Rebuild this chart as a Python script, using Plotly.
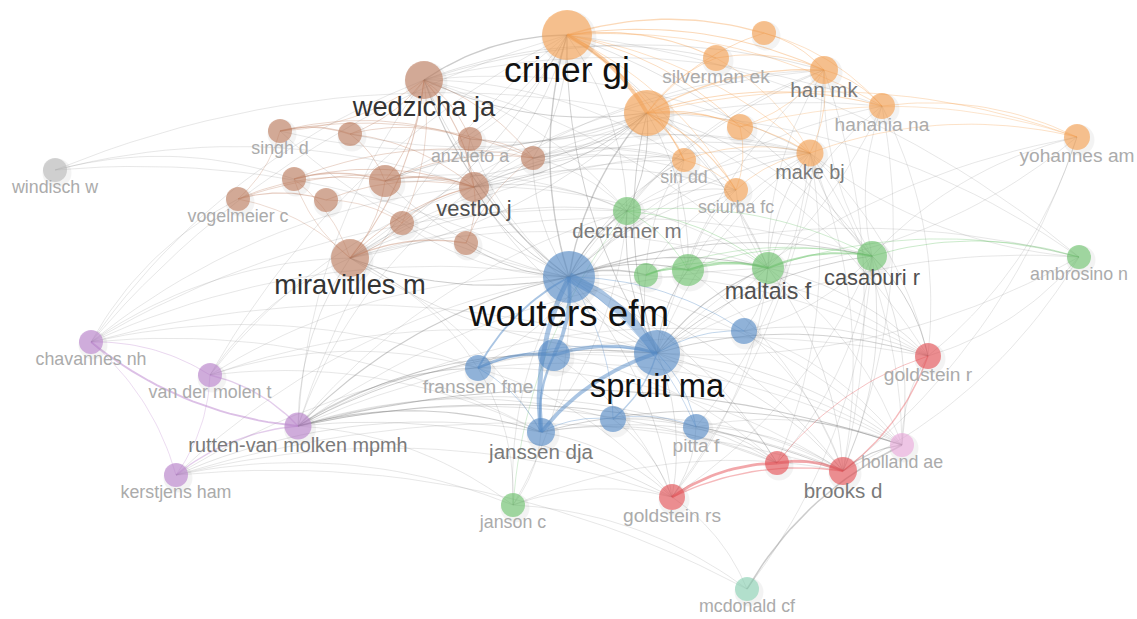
import numpy as np
import plotly.graph_objects as go

# ---------------- data ----------------
node_ids = ["criner", "silverman", "otop", "han", "obig", "hanania", "o740", "yohannes", "make", "sin", "sciurba",
            "wedzicha", "singh", "b350", "anzueto", "b533", "b294", "b385", "vestbo", "b326", "vogelmeier", "b402", "b466", "miravitlles",
            "windisch",
            "decramer", "g646", "g688", "maltais", "casaburi", "ambrosino", "janson",
            "wouters", "spruit", "bl554", "franssen", "bl744", "janssen", "bl613", "pitta",
            "goldstein_r", "r777", "brooks", "goldstein_rs",
            "holland", "mcdonald",
            "chavannes", "vdmolen", "rutten", "kerstjens"]

node_labels = ["criner gj", "silverman ek", "", "han mk", "", "hanania na", "", "yohannes am", "make bj", "sin dd", "sciurba fc",
               "wedzicha ja", "singh d", "", "anzueto a", "", "", "", "vestbo j", "", "vogelmeier c", "", "", "miravitlles m",
               "windisch w",
               "decramer m", "", "", "maltais f", "casaburi r", "ambrosino n", "janson c",
               "wouters efm", "spruit ma", "", "franssen fme", "", "janssen dja", "", "pitta f",
               "goldstein r", "", "brooks d", "goldstein rs",
               "holland ae", "mcdonald cf",
               "chavannes nh", "van der molen t", "rutten-van molken mpmh", "kerstjens ham"]

node_x = [567, 716, 764, 824, 647, 882, 740, 1077, 810, 684, 736,
          424, 280, 350, 470, 533, 294, 385, 474, 326, 238, 402, 466, 350,
          55,
          627, 646, 688, 768, 872, 1079, 513,
          569, 657, 554, 478, 744, 541, 613, 696,
          928, 777, 843, 672,
          902, 747,
          91, 210, 298, 176]

node_y = [35, 58, 33, 70, 113, 106, 127, 137, 153, 160, 190,
          80, 131, 134, 139, 158, 179, 181, 187, 200, 199, 223, 243, 258,
          170,
          211, 275, 270, 268, 256, 257, 505,
          277, 353, 355, 368, 331, 432, 419, 427,
          356, 463, 471, 497,
          445, 589,
          342, 375, 426, 475]

node_cluster = ["orange"] * 11 + ["brown"] * 13 + ["gray"] + ["green"] * 7 + ["blue"] * 8 + \
               ["red"] * 4 + ["pink", "teal"] + ["purple"] * 4

node_weight = [25, 13, 12, 14, 23, 13, 13, 13, 13.5, 12, 12,
               19, 12, 12, 12, 12, 12, 16, 15, 12, 12, 12, 12, 19,
               12,
               14, 12, 16, 16, 15, 12, 12,
               26, 23, 16, 13, 13, 14, 13, 13,
               13, 12, 14, 13,
               12, 12,
               12, 12, 13.5, 12]

edges = [
    # orange cluster
    ("criner", "obig", 4), ("criner", "otop", 1.5), ("criner", "silverman", 1.2), ("criner", "han", 1.2),
    ("criner", "hanania", 0.8), ("criner", "o740", 1), ("criner", "sin", 1), ("criner", "make", 0.8),
    ("criner", "sciurba", 0.8), ("obig", "han", 1.5), ("obig", "hanania", 1.2), ("obig", "silverman", 1),
    ("obig", "otop", 1), ("obig", "o740", 1.2), ("obig", "make", 1.2), ("obig", "sin", 1.5),
    ("obig", "sciurba", 1.2), ("obig", "yohannes", 0.8), ("silverman", "han", 1), ("otop", "han", 1),
    ("otop", "hanania", 0.8), ("han", "hanania", 1), ("han", "make", 0.8), ("han", "o740", 0.8),
    ("hanania", "yohannes", 0.8), ("make", "yohannes", 0.8), ("o740", "yohannes", 0.6), ("sin", "make", 0.8),
    ("sciurba", "make", 0.8), ("o740", "sciurba", 0.8), ("silverman", "make", 0.6), ("sin", "sciurba", 0.8),
    # brown cluster
    ("wedzicha", "miravitlles", 1.2), ("wedzicha", "vestbo", 1.2), ("wedzicha", "b385", 1), ("wedzicha", "b350", 0.8),
    ("wedzicha", "anzueto", 0.8), ("wedzicha", "b533", 0.8), ("wedzicha", "singh", 0.6), ("wedzicha", "b402", 0.6),
    ("singh", "b350", 1.5), ("singh", "anzueto", 0.8), ("singh", "b533", 0.8), ("b350", "anzueto", 0.8),
    ("b350", "b385", 0.8), ("b350", "vestbo", 0.8), ("b294", "b385", 1.5), ("b294", "vestbo", 1),
    ("b294", "b533", 0.8), ("b385", "vestbo", 1.5), ("b385", "b533", 0.8), ("b385", "miravitlles", 0.8),
    ("vogelmeier", "b326", 1.2), ("vogelmeier", "vestbo", 0.8), ("vogelmeier", "b385", 0.8),
    ("vogelmeier", "miravitlles", 0.6), ("b326", "vestbo", 0.8), ("b326", "b402", 0.6), ("b402", "vestbo", 0.8),
    ("b402", "miravitlles", 0.8), ("miravitlles", "b466", 1.5), ("miravitlles", "vestbo", 1),
    ("miravitlles", "b294", 0.6), ("vestbo", "anzueto", 0.8), ("vestbo", "b466", 0.8), ("anzueto", "b533", 0.8),
    ("b466", "b533", 0.6), ("singh", "vogelmeier", 0.6), ("b294", "miravitlles", 0.6),
    # blue cluster
    ("wouters", "spruit", 10), ("janssen", "wouters", 5), ("wouters", "bl554", 4), ("bl554", "spruit", 3.5),
    ("franssen", "bl554", 3), ("franssen", "wouters", 2), ("janssen", "spruit", 4), ("janssen", "bl554", 2.5),
    ("franssen", "janssen", 1), ("wouters", "bl744", 1), ("spruit", "bl744", 1), ("spruit", "bl613", 1.5),
    ("spruit", "pitta", 1), ("janssen", "bl613", 1), ("bl613", "pitta", 0.8), ("wouters", "pitta", 0.8),
    ("wouters", "bl613", 0.8), ("franssen", "spruit", 0.8),
    # green cluster
    ("g646", "g688", 2), ("g688", "maltais", 2.5), ("maltais", "casaburi", 2), ("casaburi", "ambrosino", 1),
    ("g688", "casaburi", 1), ("g646", "maltais", 1), ("decramer", "maltais", 1), ("decramer", "casaburi", 0.8),
    ("decramer", "g688", 0.8), ("janson", "decramer", 0.6), ("g646", "casaburi", 0.8), ("maltais", "ambrosino", 0.8),
    # red cluster
    ("goldstein_rs", "r777", 3), ("r777", "brooks", 3), ("goldstein_rs", "brooks", 1.5),
    ("goldstein_r", "brooks", 1.5), ("r777", "goldstein_r", 1),
    # purple cluster
    ("rutten", "chavannes", 2), ("vdmolen", "rutten", 1.5), ("kerstjens", "rutten", 1.5),
    ("chavannes", "vdmolen", 0.8), ("chavannes", "kerstjens", 0.6),
    # links between clusters
    ("wouters", "criner", 1.5), ("wouters", "obig", 1.5), ("wouters", "wedzicha", 1.2), ("wouters", "miravitlles", 1.2),
    ("wouters", "vestbo", 1), ("wouters", "decramer", 1.2), ("wouters", "g646", 1.5), ("wouters", "g688", 1.2),
    ("wouters", "maltais", 1.2), ("wouters", "casaburi", 1), ("wouters", "han", 0.8), ("wouters", "make", 0.8),
    ("wouters", "sin", 0.8), ("wouters", "sciurba", 0.8), ("wouters", "hanania", 0.6), ("wouters", "b385", 0.8),
    ("wouters", "b466", 1), ("wouters", "b402", 0.6), ("wouters", "anzueto", 0.6), ("wouters", "goldstein_rs", 0.8),
    ("wouters", "r777", 0.8), ("wouters", "brooks", 0.8), ("wouters", "goldstein_r", 0.6), ("wouters", "holland", 0.6),
    ("wouters", "janson", 0.6), ("wouters", "ambrosino", 0.6), ("wouters", "singh", 0.6), ("wouters", "b533", 0.8),
    ("spruit", "criner", 1), ("spruit", "obig", 1), ("spruit", "wedzicha", 0.8), ("spruit", "miravitlles", 0.8),
    ("spruit", "decramer", 1), ("spruit", "g646", 0.8), ("spruit", "g688", 1), ("spruit", "maltais", 1.2),
    ("spruit", "casaburi", 1), ("spruit", "goldstein_r", 1), ("spruit", "goldstein_rs", 0.8), ("spruit", "brooks", 0.8),
    ("spruit", "r777", 0.8), ("spruit", "holland", 0.8), ("spruit", "make", 0.6), ("spruit", "han", 0.6),
    ("spruit", "vestbo", 0.8), ("spruit", "ambrosino", 0.6), ("spruit", "yohannes", 0.5),
    ("rutten", "wouters", 1.2), ("rutten", "spruit", 1), ("rutten", "janssen", 1.2), ("rutten", "franssen", 1),
    ("rutten", "bl554", 1), ("rutten", "bl613", 0.8), ("rutten", "pitta", 0.8), ("rutten", "goldstein_rs", 0.8),
    ("rutten", "r777", 0.8), ("rutten", "brooks", 1), ("rutten", "holland", 1.2), ("rutten", "miravitlles", 0.8),
    ("rutten", "decramer", 0.6), ("rutten", "maltais", 0.6), ("rutten", "vestbo", 0.6), ("rutten", "wedzicha", 0.6),
    ("rutten", "criner", 0.6), ("rutten", "bl744", 0.6), ("rutten", "goldstein_r", 0.6), ("rutten", "janson", 0.6),
    ("chavannes", "wouters", 0.6), ("chavannes", "miravitlles", 0.6), ("chavannes", "vogelmeier", 0.5),
    ("chavannes", "criner", 0.5), ("chavannes", "wedzicha", 0.5), ("chavannes", "spruit", 0.5),
    ("chavannes", "decramer", 0.5), ("chavannes", "franssen", 0.5), ("chavannes", "janssen", 0.5),
    ("chavannes", "vestbo", 0.5),
    ("vdmolen", "wouters", 0.6), ("vdmolen", "miravitlles", 0.6), ("vdmolen", "janssen", 0.6),
    ("vdmolen", "spruit", 0.6), ("vdmolen", "criner", 0.5), ("vdmolen", "vestbo", 0.5),
    ("vdmolen", "franssen", 0.5), ("vdmolen", "kerstjens", 0.5),
    ("kerstjens", "wouters", 0.6), ("kerstjens", "janssen", 0.8), ("kerstjens", "brooks", 0.6),
    ("kerstjens", "janson", 0.6), ("kerstjens", "goldstein_rs", 0.6), ("kerstjens", "spruit", 0.6),
    ("windisch", "obig", 0.6), ("windisch", "vestbo", 0.6), ("windisch", "wouters", 0.5), ("windisch", "b294", 0.5),
    ("wedzicha", "criner", 1.5), ("criner", "vestbo", 0.8), ("criner", "miravitlles", 0.8), ("criner", "b385", 0.8),
    ("criner", "decramer", 0.8), ("criner", "maltais", 0.8), ("criner", "casaburi", 0.8), ("criner", "b533", 0.8),
    ("criner", "anzueto", 0.6), ("criner", "ambrosino", 0.5),
    ("obig", "wedzicha", 1), ("obig", "vestbo", 1), ("obig", "miravitlles", 0.8), ("obig", "b385", 0.8),
    ("obig", "decramer", 1), ("obig", "maltais", 0.8), ("obig", "casaburi", 0.8), ("obig", "g688", 0.8),
    ("obig", "b533", 1), ("obig", "anzueto", 0.8), ("obig", "singh", 0.6), ("obig", "b350", 0.6),
    ("obig", "ambrosino", 0.5), ("obig", "goldstein_r", 0.5),
    ("wedzicha", "han", 0.8), ("wedzicha", "silverman", 0.8), ("wedzicha", "sin", 0.6), ("wedzicha", "make", 0.6),
    ("wedzicha", "decramer", 0.6), ("wedzicha", "maltais", 0.6), ("wedzicha", "hanania", 0.5),
    ("miravitlles", "decramer", 0.8), ("miravitlles", "maltais", 0.6), ("miravitlles", "sin", 0.6),
    ("miravitlles", "make", 0.6), ("miravitlles", "casaburi", 0.5), ("miravitlles", "han", 0.5),
    ("miravitlles", "janssen", 0.5), ("miravitlles", "franssen", 0.5),
    ("vestbo", "sin", 0.8), ("vestbo", "make", 0.8), ("vestbo", "sciurba", 0.8), ("vestbo", "decramer", 0.8),
    ("vestbo", "han", 0.6), ("vestbo", "maltais", 0.6), ("vestbo", "hanania", 0.6),
    ("b533", "make", 0.6), ("b533", "sin", 0.8), ("b533", "sciurba", 0.6), ("b533", "decramer", 0.6),
    ("b385", "sin", 0.6), ("b385", "make", 0.6), ("b385", "decramer", 0.6),
    ("decramer", "sin", 0.6), ("decramer", "sciurba", 0.8), ("decramer", "make", 0.6), ("decramer", "han", 0.6),
    ("decramer", "franssen", 0.6), ("decramer", "janssen", 0.6),
    ("maltais", "make", 0.8), ("maltais", "sciurba", 0.6), ("maltais", "han", 0.6), ("maltais", "hanania", 0.6),
    ("maltais", "goldstein_r", 0.8), ("maltais", "brooks", 0.8), ("maltais", "goldstein_rs", 0.6),
    ("maltais", "bl744", 0.8), ("maltais", "holland", 0.6),
    ("casaburi", "make", 0.8), ("casaburi", "hanania", 0.6), ("casaburi", "han", 0.6), ("casaburi", "yohannes", 0.6),
    ("casaburi", "goldstein_r", 1), ("casaburi", "brooks", 0.8), ("casaburi", "r777", 0.6),
    ("casaburi", "holland", 0.8), ("casaburi", "goldstein_rs", 0.6), ("casaburi", "bl744", 0.6),
    ("casaburi", "mcdonald", 0.5),
    ("g688", "make", 0.6), ("g688", "sin", 0.6), ("g688", "sciurba", 0.6), ("g688", "goldstein_r", 0.6),
    ("g688", "brooks", 0.6), ("g646", "sciurba", 0.6), ("g646", "sin", 0.6),
    ("ambrosino", "goldstein_r", 0.6), ("ambrosino", "brooks", 0.6), ("ambrosino", "make", 0.5),
    ("ambrosino", "spruit", 0.5), ("yohannes", "brooks", 0.5), ("yohannes", "goldstein_r", 0.5),
    ("yohannes", "maltais", 0.5), ("hanania", "goldstein_r", 0.6), ("hanania", "brooks", 0.5),
    ("hanania", "spruit", 0.5), ("make", "goldstein_r", 0.6), ("make", "brooks", 0.6), ("make", "holland", 0.6),
    ("make", "r777", 0.6), ("make", "pitta", 0.5), ("han", "brooks", 0.5), ("han", "goldstein_rs", 0.5),
    ("janssen", "goldstein_rs", 0.8), ("janssen", "r777", 0.8), ("janssen", "brooks", 0.8),
    ("janssen", "holland", 1), ("janssen", "janson", 0.6),
    ("franssen", "goldstein_rs", 0.6), ("franssen", "brooks", 0.6), ("franssen", "holland", 0.6),
    ("franssen", "janson", 0.6), ("bl554", "goldstein_rs", 0.6), ("bl554", "r777", 0.6), ("bl554", "holland", 0.6),
    ("pitta", "goldstein_rs", 0.8), ("pitta", "r777", 0.8), ("pitta", "brooks", 0.8), ("pitta", "holland", 0.6),
    ("bl613", "goldstein_rs", 0.8), ("bl613", "r777", 0.8), ("bl613", "brooks", 0.6),
    ("bl744", "goldstein_r", 0.8), ("bl744", "brooks", 0.6), ("bl744", "holland", 0.6),
    ("janson", "goldstein_rs", 0.5), ("janson", "mcdonald", 0.5), ("janson", "brooks", 0.5),
    ("mcdonald", "holland", 1.6), ("brooks", "holland", 1.2), ("goldstein_rs", "mcdonald", 0.6),
    ("holland", "goldstein_r", 0.6), ("kerstjens", "mcdonald", 0.5), ("janson", "wouters", 0.5),
]

# ---------------- styling ----------------
cluster_color = {
    "orange": (245, 160, 80), "brown": (190, 125, 95), "blue": (85, 140, 200), "green": (110, 195, 110),
    "red": (230, 80, 85), "pink": (235, 170, 220), "purple": (185, 130, 205), "teal": (140, 210, 180),
    "gray": (185, 185, 185),
}
FONT = "Liberation Sans, Arial, Helvetica, sans-serif"
W, H = 1137, 619

idx = {k: i for i, k in enumerate(node_ids)}


def rgba(c, a):
    return f"rgba({c[0]},{c[1]},{c[2]},{a})"


groups = {}
t = np.linspace(0, 1, 24)
for s, d, w in edges:
    i, j = idx[s], idx[d]
    x0, y0, x1, y1 = node_x[i], node_y[i], node_x[j], node_y[j]
    dx, dy = x1 - x0, y1 - y0
    cx = (x0 + x1) / 2 + 0.15 * dy
    cy = (y0 + y1) / 2 - 0.15 * dx
    bx = (1 - t) ** 2 * x0 + 2 * (1 - t) * t * cx + t ** 2 * x1
    by = (1 - t) ** 2 * y0 + 2 * (1 - t) * t * cy + t ** 2 * y1
    if node_cluster[i] == node_cluster[j]:
        a = 0.5 if w >= 2 else 0.4
        col = rgba(cluster_color[node_cluster[i]], a)
    else:
        a = 0.38 if w >= 1 else 0.26
        col = rgba((120, 120, 120), a)
    width = round(max(0.7, w * 0.95), 1)
    key = (col, width)
    g = groups.setdefault(key, ([], []))
    g[0].extend(list(bx) + [None])
    g[1].extend(list(by) + [None])

fig = go.Figure()
for (col, width), (xs, ys) in sorted(groups.items(), key=lambda kv: kv[0][1]):
    fig.add_trace(go.Scatter(x=xs, y=ys, mode="lines", line=dict(color=col, width=width),
                             hoverinfo="skip", showlegend=False))

# node shadows
fig.add_trace(go.Scatter(
    x=[v + 2 for v in node_x], y=[v + 3 for v in node_y], mode="markers",
    marker=dict(size=[2 * w + 5 for w in node_weight], color="rgba(0,0,0,0.07)", line=dict(width=0)),
    hoverinfo="skip", showlegend=False, cliponaxis=False))

# nodes
fig.add_trace(go.Scatter(
    x=node_x, y=node_y, mode="markers",
    marker=dict(size=[2 * w for w in node_weight],
                color=[rgba(cluster_color[c], 0.9) for c in node_cluster],
                line=dict(width=0)),
    text=node_labels, hoverinfo="text", showlegend=False, cliponaxis=False))


def label_size(w):
    return (16.5 + (w - 12) * 1.25) * 1.08


def label_color(w):
    if w < 13.3:
        return "#ababab"
    if w < 14.5:
        return "#7a7a7a"
    if w < 17:
        return "#505050"
    if w < 22:
        return "#333333"
    return "#111111"


lx, ly, lt, ls, lc = [], [], [], [], []
for i, lab in enumerate(node_labels):
    if not lab:
        continue
    w = node_weight[i]
    fs = label_size(w)
    lx.append(node_x[i])
    ly.append(node_y[i] + w + 0.38 * fs)
    lt.append(lab)
    ls.append(fs)
    lc.append(label_color(w))

fig.add_trace(go.Scatter(
    x=lx, y=ly, mode="text", text=lt, textposition="middle center",
    textfont=dict(family=FONT, size=ls, color=lc),
    hoverinfo="skip", showlegend=False, cliponaxis=False))

fig.update_layout(
    width=W, height=H,
    margin=dict(l=0, r=0, t=0, b=0),
    paper_bgcolor="white", plot_bgcolor="white",
    xaxis=dict(range=[0, W], visible=False, fixedrange=True),
    yaxis=dict(range=[H, 0], visible=False, fixedrange=True),
    showlegend=False,
)

fig.write_html(
    "out.html",
    config={"displayModeBar": False},
    post_script="document.body.style.margin='0';document.body.style.overflow='hidden';",
)
